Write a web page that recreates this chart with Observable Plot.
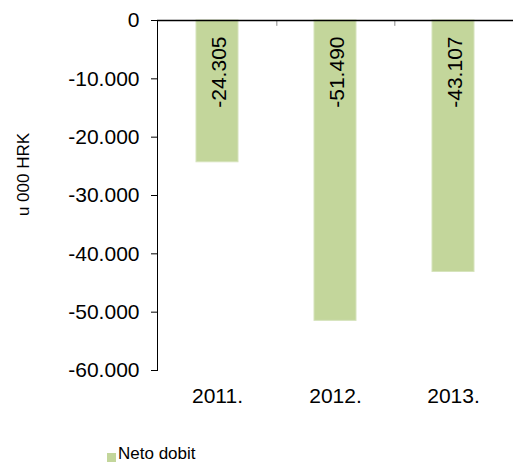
<!DOCTYPE html>
<html>
<head>
<meta charset="utf-8">
<script src="https://cdn.jsdelivr.net/npm/d3@7"></script>
<script src="https://cdn.jsdelivr.net/npm/@observablehq/plot@0.6"></script>
<style>
  html, body { margin: 0; padding: 0; background: #fff; }
  body { width: 513px; height: 465px; overflow: hidden; font-family: "Liberation Sans", Arial, sans-serif; }
  #legend { position: relative; height: 25px; font-size: 17px; color: #000; }
  #legend .sw { position: absolute; left: 107px; top: 13px; width: 9px; height: 9px; background: #c3d69b; }
  #legend .lb { position: absolute; left: 118px; top: 5px; line-height: 18px; }
</style>
</head>
<body>
<div id="chart"></div>
<div id="legend"><span class="sw"></span><span class="lb">Neto dobit</span></div>
<script>
const years = ["2011.", "2012.", "2013."];
const netProfit = [-24305, -51490, -43107];
const yTicks = [0, -10000, -20000, -30000, -40000, -50000, -60000];
const seriesName = "Neto dobit";
const yLabel = "u 000 HRK";

const hr = d3.formatLocale({decimal: ",", thousands: ".", grouping: [3], currency: ["", " kn"], minus: "-"});
const fmt = hr.format(",d");

const data = years.map((y, i) => ({year: y, value: netProfit[i]}));

const W = 513, ML = 157, MR = 0;
const step = (W - ML - MR) / years.length;

const chart = Plot.plot({
  width: W,
  height: 440,
  marginLeft: ML,
  marginRight: MR,
  marginTop: 20,
  marginBottom: 70,
  style: {fontFamily: "'Liberation Sans', Arial, sans-serif", color: "#000", background: "#fff"},
  x: {domain: years, paddingInner: 0.646, paddingOuter: 0.323, axis: null},
  y: {domain: [-60000, 0], ticks: yTicks, tickFormat: () => "", tickSize: 6, label: null, line: true},
  marks: [
    Plot.barY(data, {x: "year", y: "value", fill: "#c3d69b", stroke: "#d6e3bc", strokeWidth: 1}),
    Plot.text(data, {x: "year", y: 0, text: d => fmt(d.value), rotate: -90, textAnchor: "end", lineAnchor: "middle", dy: 16, dx: 2, fontSize: 21, fill: "#000"}),
    Plot.ruleX(years.slice(0, -1), {x: d => d, y1: 0, y2: -1000, dx: step / 2, stroke: "#888", strokeWidth: 1}),
    Plot.ruleY([0], {stroke: "#000", strokeWidth: 1.3}),
    Plot.text(yTicks, {y: d => d, text: d => fmt(d), frameAnchor: "left", textAnchor: "end", lineAnchor: "middle", dx: -18, fontSize: 21, fill: "#000"}),
    Plot.text(years, {x: d => d, text: d => d, frameAnchor: "bottom", textAnchor: "middle", lineAnchor: "top", dy: 18, fontSize: 21, fill: "#000"}),
    Plot.text([yLabel], {frameAnchor: "top-left", text: d => d, rotate: -90, textAnchor: "middle", lineAnchor: "middle", dx: -134, dy: 154, fontSize: 17, fill: "#000"})
  ]
});
document.getElementById("chart").appendChild(chart);
</script>
</body>
</html>
